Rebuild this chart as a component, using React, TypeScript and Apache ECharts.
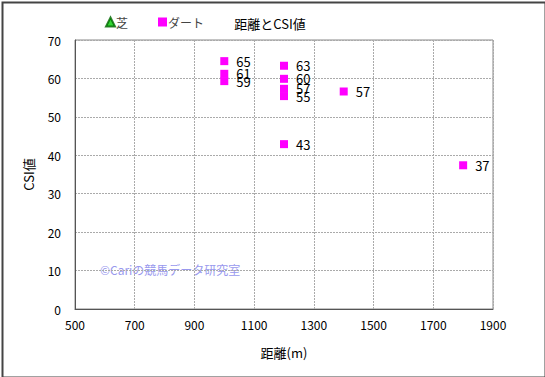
import React, { useEffect, useRef } from "react";
import * as echarts from "echarts";

const distances = [1000, 1000, 1000, 1200, 1200, 1200, 1200, 1200, 1400, 1800];
const csiValues = [64.5, 61.2, 59.3, 63.3, 59.9, 57.3, 55.4, 42.9, 56.6, 37.4];
const xTicks = [500, 700, 900, 1100, 1300, 1500, 1700, 1900];
const yTicks = [0, 10, 20, 30, 40, 50, 60, 70];

const FONT = "'Noto Sans CJK JP', 'Noto Sans', sans-serif";

export default function App() {
  const ref = useRef<HTMLDivElement>(null);
  useEffect(() => {
    document.body.style.margin = "0";
    const chart = echarts.init(ref.current!, null, { renderer: "svg" });
    chart.setOption({
      animation: false,
      backgroundColor: "#fff",
      textStyle: { fontFamily: FONT },
      title: {
        text: "距離とCSI値",
        left: 265,
        top: 12,
        textAlign: "center",
        textStyle: { fontSize: 13, fontWeight: "normal", color: "#000", fontFamily: FONT },
      },
      legend: {
        left: 100,
        top: 11,
        itemGap: 30,
        itemWidth: 9,
        itemHeight: 9,
        textStyle: { fontSize: 12, color: "#444", fontFamily: FONT, padding: [0, 0, 0, -4] },
        data: [
          { name: "芝", icon: "triangle" },
          { name: "ダート", icon: "rect" },
        ],
      },
      grid: {
        left: 75,
        right: 52,
        top: 40,
        bottom: 68,
        show: true,
        borderColor: "#888",
        borderWidth: 1,
      },
      xAxis: {
        type: "value",
        min: xTicks[0],
        max: xTicks[xTicks.length - 1],
        interval: 200,
        name: "距離(m)",
        nameLocation: "middle",
        nameGap: 37,
        nameTextStyle: { fontSize: 13, color: "#000", fontFamily: FONT },
        axisLine: { show: true, lineStyle: { color: "#555" } },
        axisTick: { show: false },
        axisLabel: { fontSize: 12, color: "#000", margin: 9, formatter: (v: number) => String(v) },
        splitLine: { show: true, lineStyle: { color: "#aaa", type: [2, 1] } },
      },
      yAxis: {
        type: "value",
        min: yTicks[0],
        max: yTicks[yTicks.length - 1],
        interval: 10,
        name: "CSI値",
        nameLocation: "middle",
        nameGap: 40,
        nameTextStyle: { fontSize: 13, color: "#000", fontFamily: FONT },
        axisLine: { show: true, lineStyle: { color: "#555" } },
        axisTick: { show: false },
        axisLabel: { fontSize: 12, color: "#000", margin: 14, formatter: (v: number) => String(v) },
        splitLine: { show: true, lineStyle: { color: "#aaa", type: [2, 1] } },
      },
      graphic: [
        {
          type: "rect",
          left: 0,
          top: 0,
          shape: { width: 543, height: 375 },
          style: { fill: "none", stroke: "#444", lineWidth: 2 },
          silent: true,
        },
        {
          type: "text",
          left: 100,
          top: 263,
          style: {
            text: "©Cariの競馬データ研究室",
            fill: "#9999ee",
            fontSize: 12,
            fontFamily: FONT,
          },
          silent: true,
        },
      ],
      series: [
        {
          name: "芝",
          type: "scatter",
          symbol: "triangle",
          itemStyle: { color: "#00cc00", borderColor: "#006600", borderWidth: 0.5 },
          data: [],
        },
        {
          name: "ダート",
          type: "scatter",
          symbol: "rect",
          symbolSize: 8,
          itemStyle: { color: "#ff00ff", opacity: 1 },
          data: distances.map((d, i) => [d, csiValues[i]]),
          label: {
            show: true,
            position: "right",
            distance: 8,
            fontSize: 13,
            color: "#000",
            fontFamily: FONT,
            formatter: (p: any) => String(Math.round(p.value[1])),
          },
        },
      ],
    });
    return () => chart.dispose();
  }, []);
  return <div ref={ref} style={{ width: 545, height: 377 }} />;
}
